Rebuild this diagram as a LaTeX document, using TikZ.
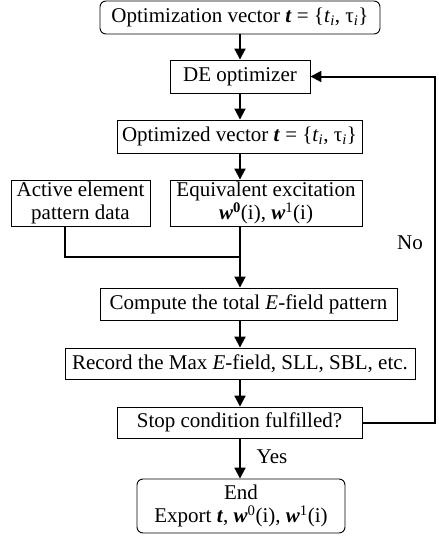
\documentclass[tikz,border=0pt]{standalone}
\usepackage{fontspec}
\setmainfont{Liberation Serif}
\usetikzlibrary{arrows.meta,calc}
\newcommand{\bt}{\textbf{\textit{t}}}
\newcommand{\bw}{\textbf{\textit{w}}}
\newcommand{\subi}{\textsubscript{\textit{i}}}
\tikzset{
  box/.style={draw, line width=0.9pt, align=center, inner sep=1pt, font=\fontsize{21}{23}\selectfont},
  rbox/.style={box, rounded corners=6pt},
  flow/.style={line width=2pt, -{Triangle[length=11pt,width=11pt]}},
  plain/.style={line width=2pt},
  lab/.style={font=\fontsize{21}{23}\selectfont}
}
\begin{document}
\begin{tikzpicture}[x=1pt,y=-1pt]
\useasboundingbox (0,0) rectangle (439,536);
\node[rbox, minimum width=280, minimum height=33] (start) at (240,17.5) {Optimization vector \bt{} = \{\textit{t}\subi, τ\subi\}};
\node[box, minimum width=140, minimum height=33] (de) at (240,76.5) {DE optimizer};
\node[box, minimum width=245, minimum height=33] (optv) at (239.5,136.5) {Optimized vector \bt{} = \{\textit{t}\subi, τ\subi\}};
\node[box, minimum width=192, minimum height=46] (equiv) at (266,203) {Equivalent excitation\\\bw\textsuperscript{\textbf{0}}(i), \bw\textsuperscript{1}(i)};
\node[box, minimum width=139, minimum height=46] (active) at (80.5,203) {Active element\\pattern data};
\node[box, minimum width=297, minimum height=32] (compute) at (248.5,304) {Compute the total \textit{E}-field pattern};
\node[box, minimum width=350, minimum height=31] (record) at (240,363.5) {Record the Max \textit{E}-field, SLL, SBL, etc.};
\node[box, minimum width=245, minimum height=31] (stop) at (239.5,422.5) {Stop condition fulfilled?};
\node[rbox, minimum width=208, minimum height=54] (end) at (241,506) {End\\Export \bt, \bw\textsuperscript{0}(i), \bw\textsuperscript{1}(i)};
\coordinate (junc) at (240,257);
\coordinate (fbr) at (435,0);
\node[lab] (no) at (410,243) {No};
\node[lab] (yes) at (272,457) {Yes};

\draw[flow] (start.south -| 240,0) -- (de.north -| 240,0);
\draw[flow] (de.south -| 240,0) -- (optv.north -| 240,0);
\draw[flow] (optv.south -| 240,0) -- (equiv.north -| 240,0);
\draw[flow] (equiv.south -| 240,0) -- (compute.north -| 240,0);
\draw[plain] ([xshift=-15.5pt]active.south) |- (junc);
\draw[flow] (compute.south -| 240,0) -- (record.north -| 240,0);
\draw[flow] (record.south -| 240,0) -- (stop.north -| 240,0);
\draw[flow] (stop.south -| 240,0) -- (end.north -| 240,0);
\draw[flow] (stop.east) -- (stop.east -| fbr) -- (de.east -| fbr) -- (de.east);
\end{tikzpicture}
\end{document}
